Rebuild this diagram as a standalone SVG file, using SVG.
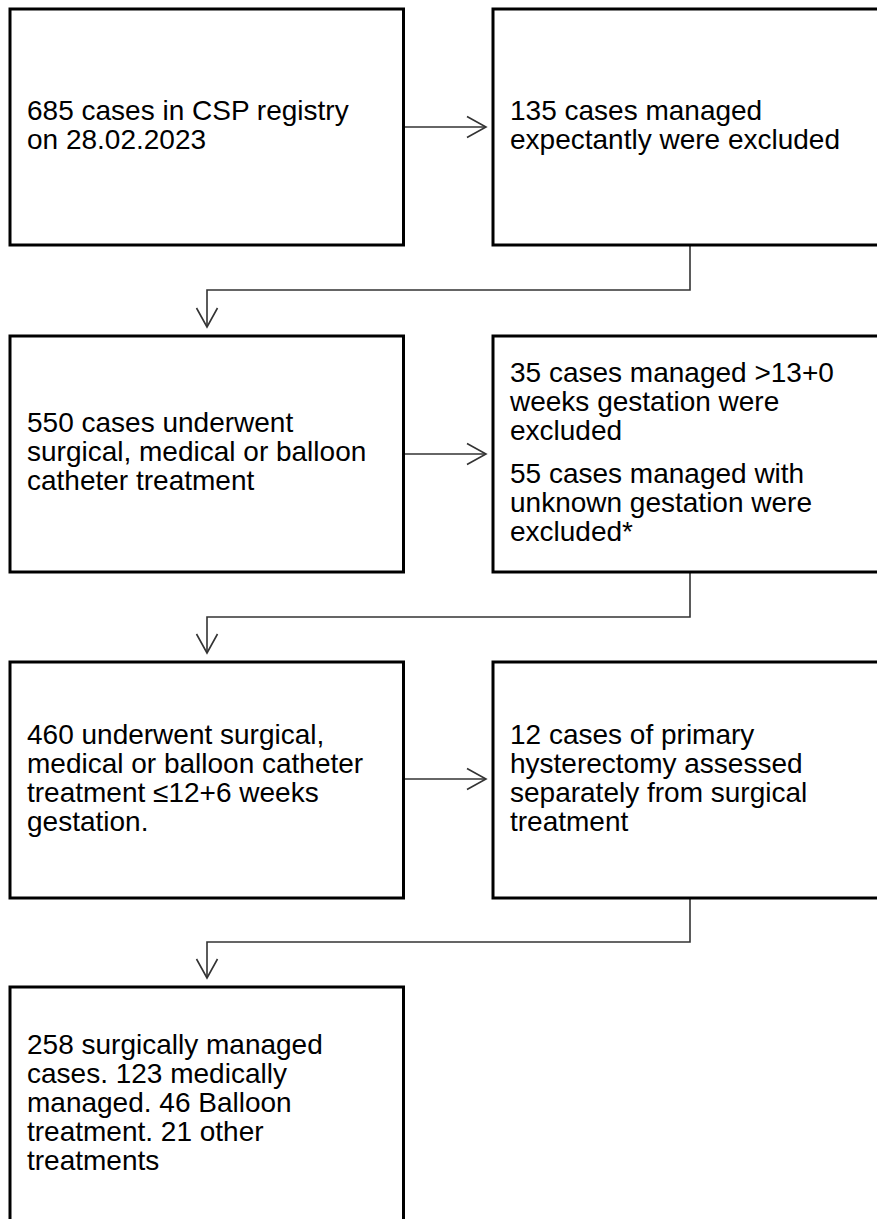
<svg xmlns="http://www.w3.org/2000/svg" width="877" height="1219" viewBox="0 0 877 1219">
<style>
.box{fill:#fff;stroke:#000;stroke-width:3}
.t{font-family:"Liberation Sans",Arial,sans-serif;font-size:28px;fill:#000}
.c{fill:none;stroke:#333;stroke-width:1.6}
</style>
<defs>
<marker id="ah" markerUnits="userSpaceOnUse" viewBox="0 0 22 24" refX="20" refY="12" markerWidth="22" markerHeight="24" orient="auto">
<path d="M1,1.5 L20,12 L1,22.5" fill="none" stroke="#333" stroke-width="1.6"/>
</marker>
</defs>
<rect width="877" height="1219" fill="#fff"/>
<g id="connectors">
<path class="c" d="M403.5,127 H486" marker-end="url(#ah)"/>
<path class="c" d="M690,245 V290 H207 V327" marker-end="url(#ah)"/>
<path class="c" d="M403.5,454 H486" marker-end="url(#ah)"/>
<path class="c" d="M690,572 V617 H207 V653" marker-end="url(#ah)"/>
<path class="c" d="M403.5,779 H486" marker-end="url(#ah)"/>
<path class="c" d="M690,898 V942 H207 V978" marker-end="url(#ah)"/>
</g>
<g id="n1">
<rect class="box" x="10" y="9" width="393.5" height="236"/>
<text class="t" x="27" y="120">685 cases in CSP registry</text>
<text class="t" x="27" y="149">on 28.02.2023</text>
</g>
<g id="n2">
<rect class="box" x="493" y="9" width="400" height="236"/>
<text class="t" x="510" y="120">135 cases managed</text>
<text class="t" x="510" y="149">expectantly were excluded</text>
</g>
<g id="n3">
<rect class="box" x="10" y="336" width="393.5" height="236"/>
<text class="t" x="27" y="432">550 cases underwent</text>
<text class="t" x="27" y="461">surgical, medical or balloon</text>
<text class="t" x="27" y="490">catheter treatment</text>
</g>
<g id="n4">
<rect class="box" x="493" y="336" width="400" height="236"/>
<text class="t" x="510" y="382">35 cases managed &gt;13+0</text>
<text class="t" x="510" y="411">weeks gestation were</text>
<text class="t" x="510" y="440">excluded</text>
<text class="t" x="510" y="483">55 cases managed with</text>
<text class="t" x="510" y="512">unknown gestation were</text>
<text class="t" x="510" y="541">excluded*</text>
</g>
<g id="n5">
<rect class="box" x="10" y="662" width="393.5" height="236"/>
<text class="t" x="27" y="744">460 underwent surgical,</text>
<text class="t" x="27" y="773">medical or balloon catheter</text>
<text class="t" x="27" y="802">treatment ≤12+6 weeks</text>
<text class="t" x="27" y="831">gestation.</text>
</g>
<g id="n6">
<rect class="box" x="493" y="662" width="400" height="236"/>
<text class="t" x="510" y="744">12 cases of primary</text>
<text class="t" x="510" y="773">hysterectomy assessed</text>
<text class="t" x="510" y="802">separately from surgical</text>
<text class="t" x="510" y="831">treatment</text>
</g>
<g id="n7">
<rect class="box" x="10" y="987" width="393.5" height="240"/>
<text class="t" x="27" y="1054">258 surgically managed</text>
<text class="t" x="27" y="1083">cases. 123 medically</text>
<text class="t" x="27" y="1112">managed. 46 Balloon</text>
<text class="t" x="27" y="1141">treatment. 21 other</text>
<text class="t" x="27" y="1170">treatments</text>
</g>
</svg>
